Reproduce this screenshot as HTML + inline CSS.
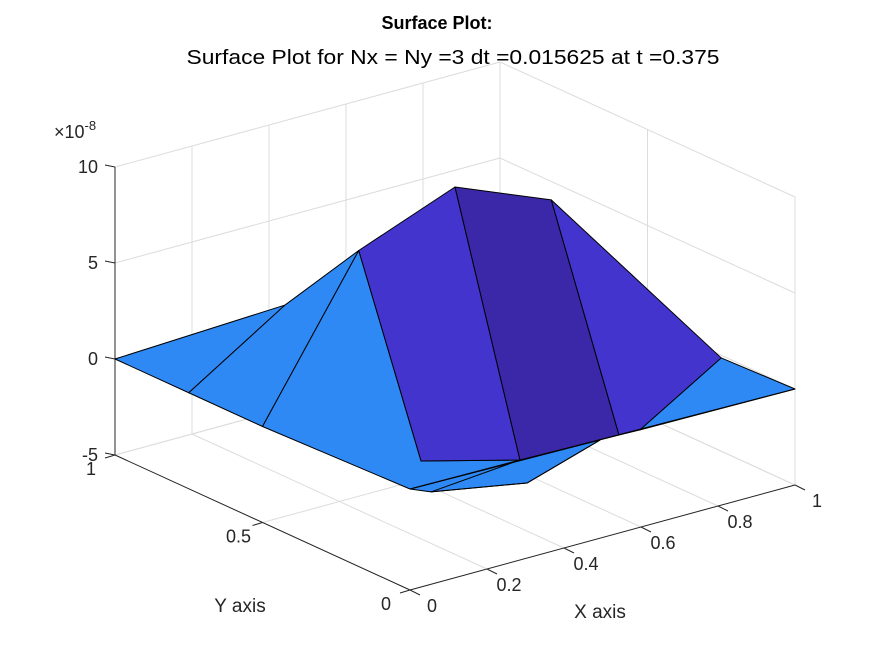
<!DOCTYPE html>
<html><head><meta charset="utf-8"><style>
body{margin:0;background:#fff}
svg{display:block;font-family:"Liberation Sans",Arial,sans-serif}
</style></head><body>
<svg id="chart" width="875" height="656" xmlns="http://www.w3.org/2000/svg">
<rect width="875" height="656" fill="#fff"/>
<g id="grid"></g>
<g id="axes"></g>
<g id="surf"></g>
<text x="437" y="29" text-anchor="middle" font-size="18" font-weight="bold" fill="#000">Surface Plot:</text>
<text x="453" y="64" text-anchor="middle" font-size="20.5" fill="#000" textLength="533" lengthAdjust="spacingAndGlyphs">Surface Plot for Nx = Ny =3 dt =0.015625 at t =0.375</text>
<text x="54" y="138" font-size="18" fill="#262626">×10<tspan dy="-8" font-size="13">-8</tspan></text>
<text x="240" y="612" text-anchor="middle" font-size="19" fill="#262626">Y axis</text>
<text x="600" y="618" text-anchor="middle" font-size="19" fill="#262626">X axis</text>
</svg>
<script>
const xTicks=[0,0.2,0.4,0.6,0.8,1];
const xTickLabels=["0","0.2","0.4","0.6","0.8","1"];
const yTicks=[0,0.5,1];
const yTickLabels=["0","0.5","1"];
const zTicks=[-5,0,5,10];
const zTickLabels=["-5","0","5","10"];
// vertices (x, y, z in units of 1e-8)
const vx=[0,0,0,0,1,0.25,0.25,0.5,0.75,1,0.231,0.2857,0.5429,0.5974,0.0545,0.304,0.4935];
const vy=[1,0.75,0.5,0,0,0.75,0.5,0.5,0.5,0.25,0.264,0,0,0,0,0,0];
const vz=[0,0,0,0.26,0,3.2,7.8,9.74,7.7,-0.14,-1.4,0.21,0.10,0.07,-0.19,-1.09,0.11];
// faces: vertex indices and value level (0 low,1 mid,2 high)
const faces=[[3,14,15,16],[0,5,1],[1,5,6,2],[2,6,10,11,3],[6,7,11,10],[7,8,12,11],[8,9,13,12],[9,4,13]];
const faceLevel=[0,0,0,0,1,2,1,0];
const extraEdges=[[3,4],[14,11],[14,15],[15,16]];
const colors=["#2E89F5","#4334CE","#3B28A8"];
const zmin=-5,zmax=10;
function P(x,y,z){return [410+385*x-295*y, 590-105*x-135*y-19.2*(z-zmin)];}
const NS="http://www.w3.org/2000/svg";
function el(t,a,p){const e=document.createElementNS(NS,t);for(const k in a)e.setAttribute(k,a[k]);p.appendChild(e);return e;}
const G=document.getElementById('grid'),A=document.getElementById('axes'),S=document.getElementById('surf');
function line(p,q,c,w,parent,name){const l=el('line',{x1:p[0],y1:p[1],x2:q[0],y2:q[1],stroke:c,'stroke-width':w},parent);

return l;}
const gc="#dcdcdc";
xTicks.forEach(x=>{line(P(x,1,zmin),P(x,1,zmax),gc,1,G,'grid-x-wall');line(P(x,0,zmin),P(x,1,zmin),gc,1,G,'grid-x-floor');});
yTicks.forEach(y=>{line(P(1,y,zmin),P(1,y,zmax),gc,1,G,'grid-y-wall');line(P(0,y,zmin),P(1,y,zmin),gc,1,G,'grid-y-floor');});
zTicks.forEach(z=>{line(P(0,1,z),P(1,1,z),gc,1,G,'grid-z-back');line(P(1,1,z),P(1,0,z),gc,1,G,'grid-z-side');});
const ac="#262626";
line(P(0,1,zmin),P(0,1,zmax),ac,1,A,'z-axis-line');
line(P(0,1,zmin),P(0,0,zmin),ac,1,A,'y-axis-line');
line(P(0,0,zmin),P(1,0,zmin),ac,1,A,'x-axis-line');
function txt(s,x,y,anchor,name){const t=el('text',{x:x,y:y,'text-anchor':anchor,'font-size':18,fill:ac},A);t.textContent=s;

}
zTicks.forEach((z,i)=>{const p=P(0,1,z);line(p,[p[0]-10,p[1]-2],ac,1,A,'z-tick');txt(zTickLabels[i],p[0]-17,p[1]+6,'end','z-tick-label');});
yTicks.forEach((y,i)=>{const p=P(0,y,zmin);line(p,[p[0]-10,p[1]+3],ac,1,A,'y-tick');txt(yTickLabels[i],p[0]-24,p[1]+20,'middle','y-tick-label');});
xTicks.forEach((x,i)=>{const p=P(x,0,zmin);line(p,[p[0]+10,p[1]+5],ac,1,A,'x-tick');txt(xTickLabels[i],p[0]+22,p[1]+22,'middle','x-tick-label');});
faces.forEach((f,i)=>{const pts=f.map(k=>P(vx[k],vy[k],vz[k]).join(',')).join(' ');
const pg=el('polygon',{points:pts,fill:colors[faceLevel[i]],stroke:'#000','stroke-width':1,'stroke-linejoin':'round'},S);

});
extraEdges.forEach(e=>{line(P(vx[e[0]],vy[e[0]],vz[e[0]]),P(vx[e[1]],vy[e[1]],vz[e[1]]),'#000',1,S,'surface-edge');});
</script>
</body></html>
